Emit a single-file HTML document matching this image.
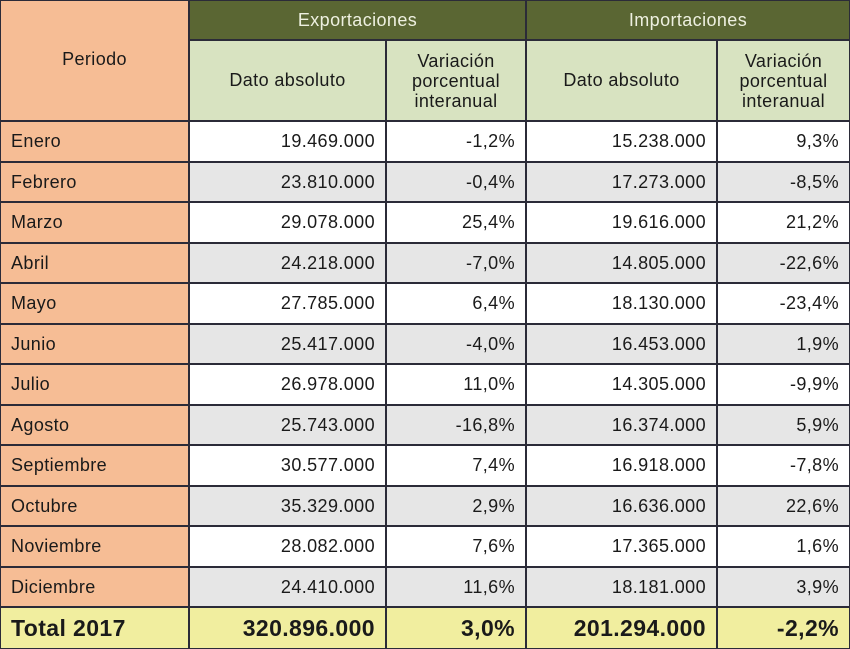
<!DOCTYPE html><html><head><style>
body{margin:0;width:850px;height:649px;overflow:hidden;background:#fff;font-family:"Liberation Sans",sans-serif;}
.c{position:absolute;box-sizing:border-box;display:flex;align-items:center;font-size:18px;color:#1a1a1a;letter-spacing:0.4px;}
</style></head><body>
<div id="t" style="position:relative;width:850px;height:649px;background:#2b2b38"></div>
<script>
const xs=[0,189,386,526,717,850];
const ys=[121,162,202,243,283,324,364,405,445,486,526,567,607,649];
const t=document.getElementById('t');
function cell(x0,y0,x1,y1,bg,txt,al,st){const d=document.createElement('div');d.className='c';
d.style.cssText+=`left:${x0+1}px;top:${y0+1}px;width:${x1-x0-2}px;height:${y1-y0-2}px;background:${bg};justify-content:${al};text-align:center;`+(st||'');d.innerHTML=txt;t.appendChild(d);}
cell(0,0,189,121,'#f6bd95','Periodo','center','padding-bottom:2px');
cell(189,0,526,40,'#5a6633','Exportaciones','center','color:#eef0e0;');
cell(526,0,850,40,'#5a6633','Importaciones','center','color:#eef0e0;');
const v='Variación<br>porcentual<br>interanual';
cell(189,40,386,121,'#d8e3c1','Dato absoluto','center');
cell(386,40,526,121,'#d8e3c1',v,'center','line-height:20px');
cell(526,40,717,121,'#d8e3c1','Dato absoluto','center');
cell(717,40,850,121,'#d8e3c1',v,'center','line-height:20px');
const d=[["Enero","19.469.000","-1,2%","15.238.000","9,3%"],["Febrero","23.810.000","-0,4%","17.273.000","-8,5%"],["Marzo","29.078.000","25,4%","19.616.000","21,2%"],["Abril","24.218.000","-7,0%","14.805.000","-22,6%"],["Mayo","27.785.000","6,4%","18.130.000","-23,4%"],["Junio","25.417.000","-4,0%","16.453.000","1,9%"],["Julio","26.978.000","11,0%","14.305.000","-9,9%"],["Agosto","25.743.000","-16,8%","16.374.000","5,9%"],["Septiembre","30.577.000","7,4%","16.918.000","-7,8%"],["Octubre","35.329.000","2,9%","16.636.000","22,6%"],["Noviembre","28.082.000","7,6%","17.365.000","1,6%"],["Diciembre","24.410.000","11,6%","18.181.000","3,9%"],["Total 2017","320.896.000","3,0%","201.294.000","-2,2%"]];
d.forEach((r,i)=>{const tot=i==12;const bg=tot?'#f1ee9f':(i%2?'#e6e6e6':'#fff');
for(let j=0;j<5;j++){let b=j==0&&!tot?'#f6bd95':bg;
let st=j==0?'padding-left:10px;':'padding-right:10px;';if(tot)st+='font-weight:bold;font-size:23px;';
cell(xs[j],ys[i],xs[j+1],ys[i+1],b,r[j],j==0?'flex-start':'flex-end',st);}});
</script>
</body></html>
